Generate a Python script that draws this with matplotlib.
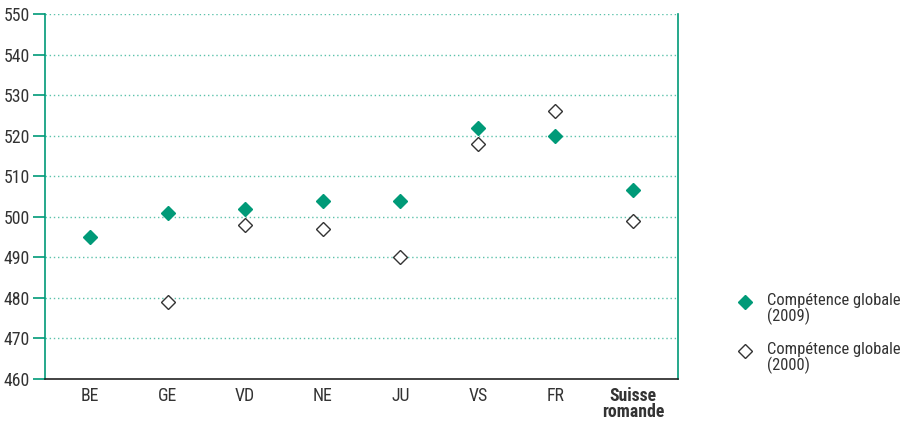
import matplotlib
matplotlib.use("Agg")
import matplotlib.pyplot as plt
from matplotlib import font_manager
from matplotlib.lines import Line2D

# Narrow sans-serif face for all chart text
installed = {f.name for f in font_manager.fontManager.ttflist}
family = "DejaVu Sans"
for cand in ("Roboto Condensed", "Archivo Narrow", "PT Sans Narrow",
             "Barlow Semi Condensed", "Liberation Sans Narrow"):
    if cand in installed:
        family = cand
        break
plt.rcParams["font.family"] = [family, "DejaVu Sans"]

categories = ["BE", "GE", "VD", "NE", "JU", "VS", "FR", "Suisse\nromande"]
score_2009 = [495, 501, 502, 504, 504, 522, 520, 506.5]
score_2000 = [None, 479, 498, 497, 490, 518, 526, 499]
y_ticks = list(range(460, 551, 10))
legend_labels = ["Compétence globale\n(2009)", "Compétence globale\n(2000)"]

green = "#009a78"
grid_green = "#5cc2ab"
text_col = "#333333"
fs = 12.8
W, H = 905, 421

fig = plt.figure(figsize=(W / 100, H / 100), dpi=100)
ax = fig.add_axes([45 / W, 1 - 379 / H, 633 / W, 365 / H])

x = list(range(len(categories)))
x00 = [i for i, v in zip(x, score_2000) if v is not None]
y00 = [v for v in score_2000 if v is not None]

ax.plot(x, score_2009, linestyle="none", marker="D", ms=7.2,
        color=green, markeredgecolor=green, zorder=3)
ax.plot(x00, y00, linestyle="none", marker="D", ms=7.2,
        markerfacecolor="white", markeredgecolor="#333333",
        markeredgewidth=1.0, zorder=3)

ax.set_xlim(-0.58, 7.58)
ax.set_ylim(460, 550)
ax.set_yticks(y_ticks)
ax.set_xticks(x)
ax.set_xticklabels(categories, fontsize=fs, color=text_col, linespacing=0.85)
ax.get_xticklabels()[-1].set_fontweight("bold")
ax.tick_params(axis="x", length=0, pad=6)
ax.tick_params(axis="y", length=9, width=1.2, color=green, labelsize=fs,
               labelcolor=text_col, pad=2)

for v in y_ticks[1:]:
    ax.axhline(v, color=grid_green, linestyle=(0, (1, 2)), linewidth=1.0, zorder=1)

for side in ("left", "right"):
    ax.spines[side].set_color(green)
    ax.spines[side].set_linewidth(1.2)
ax.spines["top"].set_visible(False)
ax.spines["bottom"].set_color("#222222")
ax.spines["bottom"].set_linewidth(1.2)

# Legend keys beside the plot, marker aligned with the first text line
key_styles = [
    dict(color=green, markeredgecolor=green),
    dict(markerfacecolor="white", markeredgecolor="#333333", markeredgewidth=1.0),
]
for i, (label, style) in enumerate(zip(legend_labels, key_styles)):
    y_px = 302 + i * 49
    fig.add_artist(Line2D([745 / W], [1 - y_px / H], linestyle="none",
                          marker="D", ms=7.2, transform=fig.transFigure, **style))
    fig.text(767 / W, 1 - (y_px - 9) / H, label, ha="left", va="top",
             fontsize=11.9, color=text_col, linespacing=0.95)

fig.savefig("out.png", dpi=100)
